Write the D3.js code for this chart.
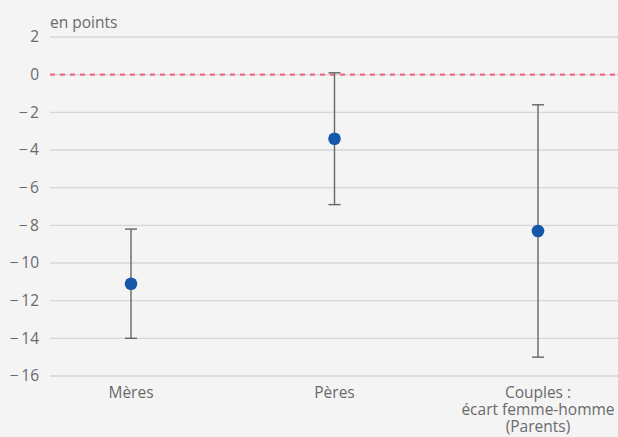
<!DOCTYPE html>
<html>
<head>
<meta charset="utf-8">
<script src="https://cdn.jsdelivr.net/npm/d3@7"></script>
<style>
  html, body { margin: 0; padding: 0; background: #f4f4f4; }
  svg { display: block; font-family: "Open Sans", sans-serif; }
</style>
</head>
<body>
<svg id="chart" width="618" height="437"></svg>
<script>
// Estimates with confidence intervals, in points
const categories = ["Mères", "Pères", "Couples :\nécart femme-homme\n(Parents)"];
const estimates = [-11.1, -3.4, -8.3];
const lowerBounds = [-14.0, -6.9, -15.0];
const upperBounds = [-8.2, 0.1, -1.6];
const yTicks = [2, 0, -2, -4, -6, -8, -10, -12, -14, -16];
const unitLabel = "en points";

(function () {
  const svg = d3.select("#chart");
  const W = 618, H = 437;
  const plotLeft = 50, plotRight = W, plotTop = 37, plotBottom = 376;
  const fontSize = 15.5;

  svg.append("rect").attr("width", W).attr("height", H).attr("fill", "#f4f4f4");

  const y = d3.scaleLinear().domain([-16, 2]).range([plotBottom, plotTop]);
  const x = d3.scalePoint().domain(categories).range([131, 538]);

  const textColor = "#6a6a6a";

  // Horizontal gridlines
  svg.append("g").selectAll("line").data(yTicks).join("line")
    .attr("x1", plotLeft).attr("x2", plotRight)
    .attr("y1", d => y(d)).attr("y2", d => y(d))
    .attr("stroke", "#d6d6d6").attr("stroke-width", 1.3);

  // Y axis labels
  const fmt = d => d < 0 ? "\u2212\u2009" + Math.abs(d) : String(d);
  const yAxis = d3.axisLeft(y).tickValues(yTicks).tickSize(0).tickPadding(0).tickFormat(fmt);
  const gy = svg.append("g").attr("transform", "translate(39,0)").call(yAxis);
  gy.select(".domain").remove();
  gy.selectAll("text").attr("fill", textColor).attr("font-size", fontSize)
    .attr("font-family", "'Open Sans', sans-serif");

  // Zero reference line
  svg.append("line")
    .attr("x1", plotLeft).attr("x2", plotRight)
    .attr("y1", y(0)).attr("y2", y(0))
    .attr("stroke", "#ef6b86").attr("stroke-width", 2.4)
    .attr("stroke-dasharray", "5,5");

  // Unit label
  svg.append("text").attr("x", 50).attr("y", 28)
    .attr("fill", textColor).attr("font-size", fontSize).text(unitLabel);

  // Error bars with caps and point estimates
  const bars = svg.append("g").selectAll("g").data(categories).join("g");
  bars.append("line")
    .attr("x1", d => x(d)).attr("x2", d => x(d))
    .attr("y1", (d, i) => y(upperBounds[i])).attr("y2", (d, i) => y(lowerBounds[i]))
    .attr("stroke", "#666").attr("stroke-width", 1.4);
  bars.append("line")
    .attr("x1", d => x(d) - 6).attr("x2", d => x(d) + 6)
    .attr("y1", (d, i) => y(upperBounds[i])).attr("y2", (d, i) => y(upperBounds[i]))
    .attr("stroke", "#666").attr("stroke-width", 1.4);
  bars.append("line")
    .attr("x1", d => x(d) - 6).attr("x2", d => x(d) + 6)
    .attr("y1", (d, i) => y(lowerBounds[i])).attr("y2", (d, i) => y(lowerBounds[i]))
    .attr("stroke", "#666").attr("stroke-width", 1.4);
  bars.append("circle")
    .attr("cx", d => x(d)).attr("cy", (d, i) => y(estimates[i]))
    .attr("r", 6.3).attr("fill", "#1557a8");

  // Category labels
  svg.append("g").selectAll("text").data(categories).join("text")
    .attr("x", d => x(d)).attr("y", 397.5)
    .attr("text-anchor", "middle").attr("fill", textColor).attr("font-size", fontSize)
    .each(function (d) {
      const lines = d.split("\n");
      d3.select(this).selectAll("tspan").data(lines).join("tspan")
        .attr("x", x(d)).attr("dy", (l, i) => i === 0 ? 0 : 17.2).text(l => l);
    });
})();
</script>
</body>
</html>
